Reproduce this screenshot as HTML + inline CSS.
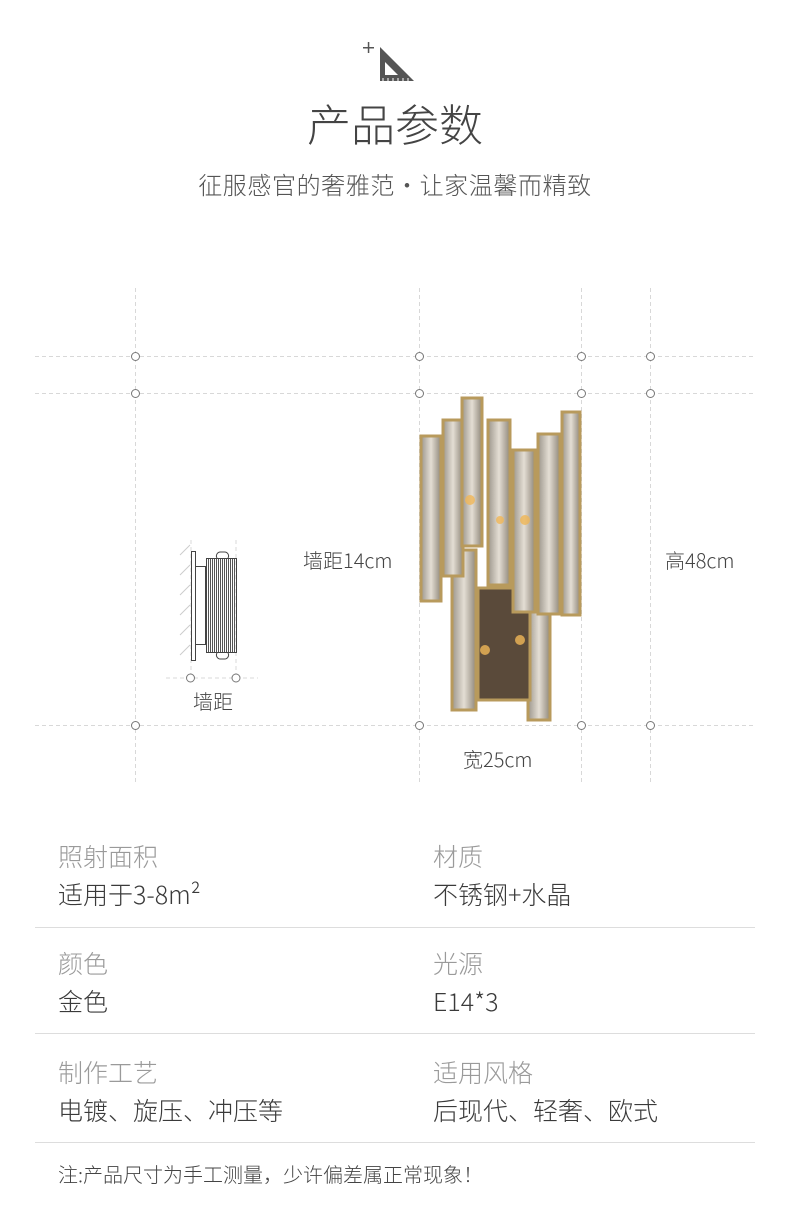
<!DOCTYPE html>
<html><head><meta charset="utf-8"><style>
body{margin:0;background:#fff;width:790px;height:1212px;overflow:hidden;position:relative;font-family:"Noto Sans CJK SC","Liberation Sans",sans-serif}
.t{position:absolute;white-space:nowrap;font-weight:300;line-height:1.15}
.lab{font-size:25px;color:#9a9a9a}
.val{font-size:25px;color:#3a3a3a}
.sep{position:absolute;left:35px;width:720px;height:1px;background:#ddd}
</style></head><body>
<svg width="790" height="1212" style="position:absolute;left:0;top:0">
<g fill="#555"><rect x="363" y="47" width="11" height="1.5"/><rect x="367.8" y="42" width="1.5" height="11"/>
<path d="M380 47 L414 81 L380 81 Z"/></g>
<path d="M385 62 L398 75 L385 75 Z" fill="#fff"/>
<g stroke="#fff" stroke-width="1"><line x1="383" y1="78" x2="383" y2="81"/><line x1="388" y1="78" x2="388" y2="81"/><line x1="393" y1="78" x2="393" y2="81"/><line x1="398" y1="78" x2="398" y2="81"/><line x1="403" y1="78" x2="403" y2="81"/><line x1="408" y1="78" x2="408" y2="81"/></g>
<g stroke="#d8d8d8" stroke-dasharray="4,3" stroke-width="1">
<line x1="135.5" y1="288" x2="135.5" y2="783"/><line x1="419.5" y1="288" x2="419.5" y2="783"/>
<line x1="581.5" y1="288" x2="581.5" y2="783"/><line x1="650.5" y1="288" x2="650.5" y2="783"/>
<line x1="35" y1="356.5" x2="755" y2="356.5"/><line x1="35" y1="393.5" x2="755" y2="393.5"/><line x1="35" y1="725.5" x2="755" y2="725.5"/>
<line x1="191" y1="540" x2="191" y2="680"/><line x1="236" y1="540" x2="236" y2="680"/><line x1="166" y1="678" x2="258" y2="678"/>
</g>
<g fill="#fff" stroke="#777" stroke-width="1">
<circle cx="135.5" cy="356.5" r="4"/><circle cx="419.5" cy="356.5" r="4"/><circle cx="581.5" cy="356.5" r="4"/><circle cx="650.5" cy="356.5" r="4"/>
<circle cx="135.5" cy="393.5" r="4"/><circle cx="419.5" cy="393.5" r="4"/><circle cx="581.5" cy="393.5" r="4"/><circle cx="650.5" cy="393.5" r="4"/>
<circle cx="135.5" cy="725.5" r="4"/><circle cx="419.5" cy="725.5" r="4"/><circle cx="581.5" cy="725.5" r="4"/><circle cx="650.5" cy="725.5" r="4"/>
<circle cx="190.5" cy="678" r="4"/><circle cx="236" cy="678" r="4"/>
</g>
<g stroke="#444" stroke-width="1" fill="#fff">
<line x1="180" y1="555" x2="190" y2="545" stroke="#ccc"/><line x1="180" y1="575" x2="190" y2="565" stroke="#ccc"/><line x1="180" y1="595" x2="190" y2="585" stroke="#ccc"/><line x1="180" y1="615" x2="190" y2="605" stroke="#ccc"/><line x1="180" y1="635" x2="190" y2="625" stroke="#ccc"/><line x1="180" y1="655" x2="190" y2="645" stroke="#ccc"/>
<rect x="191.5" y="551.5" width="4" height="109"/>
<rect x="195.5" y="566.5" width="10" height="78"/>
<rect x="206.5" y="558.5" width="30" height="94" fill="url(#st)"/>
<path d="M217 558 a4 4 0 0 1 4 -6 h3 a4 4 0 0 1 4 6"/>
<path d="M217 653 a4 4 0 0 0 4 6 h3 a4 4 0 0 0 4 -6"/>
</g>
<defs>
<pattern id="st" width="2" height="4" patternUnits="userSpaceOnUse"><rect width="1" height="4" fill="#555"/></pattern>
<linearGradient id="cr" x1="0" x2="1"><stop offset="0" stop-color="#9c968c"/><stop offset="0.5" stop-color="#e4ded4"/><stop offset="1" stop-color="#8f877a"/></linearGradient>
</defs>
<g stroke="#b89a5c" stroke-width="3" fill="url(#cr)">
<rect x="452" y="550" width="24" height="160"/>
<rect x="528" y="598" width="22" height="122"/>
<rect x="478" y="588" width="52" height="112" fill="#5a4a3a"/>
<rect x="421" y="436" width="20" height="165"/>
<rect x="443" y="420" width="20" height="156"/>
<rect x="462" y="398" width="20" height="148"/>
<rect x="488" y="420" width="22" height="165"/>
<rect x="513" y="450" width="22" height="162"/>
<rect x="538" y="434" width="22" height="180"/>
<rect x="562" y="412" width="18" height="203"/>
</g>
<g fill="#f0b757" opacity="0.8"><circle cx="470" cy="500" r="5"/><circle cx="500" cy="520" r="4"/><circle cx="525" cy="520" r="5"/><circle cx="485" cy="650" r="5"/><circle cx="520" cy="640" r="5"/></g>
</svg>
<div class="t" style="left:0;width:790px;text-align:center;top:97px;font-size:44px;color:#444">产品参数</div>
<div class="t" style="left:0;width:790px;text-align:center;top:170px;font-size:24px;color:#555;letter-spacing:0.6px">征服感官的奢雅范·让家温馨而精致</div>
<div class="t" style="left:303px;top:548px;font-size:20px;color:#444">墙距14cm</div>
<div class="t" style="left:665px;top:548px;font-size:20px;color:#444">高48cm</div>
<div class="t" style="left:463px;top:747px;font-size:20px;color:#444">宽25cm</div>
<div class="t" style="left:193px;top:689px;font-size:20px;color:#444">墙距</div>
<div class="t lab" style="left:58px;top:842px">照射面积</div>
<div class="t val" style="left:58px;top:880px">适用于3-8m²</div>
<div class="t lab" style="left:433px;top:842px">材质</div>
<div class="t val" style="left:433px;top:880px">不锈钢+水晶</div>
<div class="sep" style="top:927px"></div>
<div class="t lab" style="left:58px;top:949px">颜色</div>
<div class="t val" style="left:58px;top:987px">金色</div>
<div class="t lab" style="left:433px;top:949px">光源</div>
<div class="t val" style="left:433px;top:987px">E14*3</div>
<div class="sep" style="top:1033px"></div>
<div class="t lab" style="left:58px;top:1058px">制作工艺</div>
<div class="t val" style="left:58px;top:1096px">电镀、旋压、冲压等</div>
<div class="t lab" style="left:433px;top:1058px">适用风格</div>
<div class="t val" style="left:433px;top:1096px">后现代、轻奢、欧式</div>
<div class="sep" style="top:1142px"></div>
<div class="t" style="left:58px;top:1162px;font-size:20px;color:#444">注:产品尺寸为手工测量，少许偏差属正常现象！</div>
</body></html>
